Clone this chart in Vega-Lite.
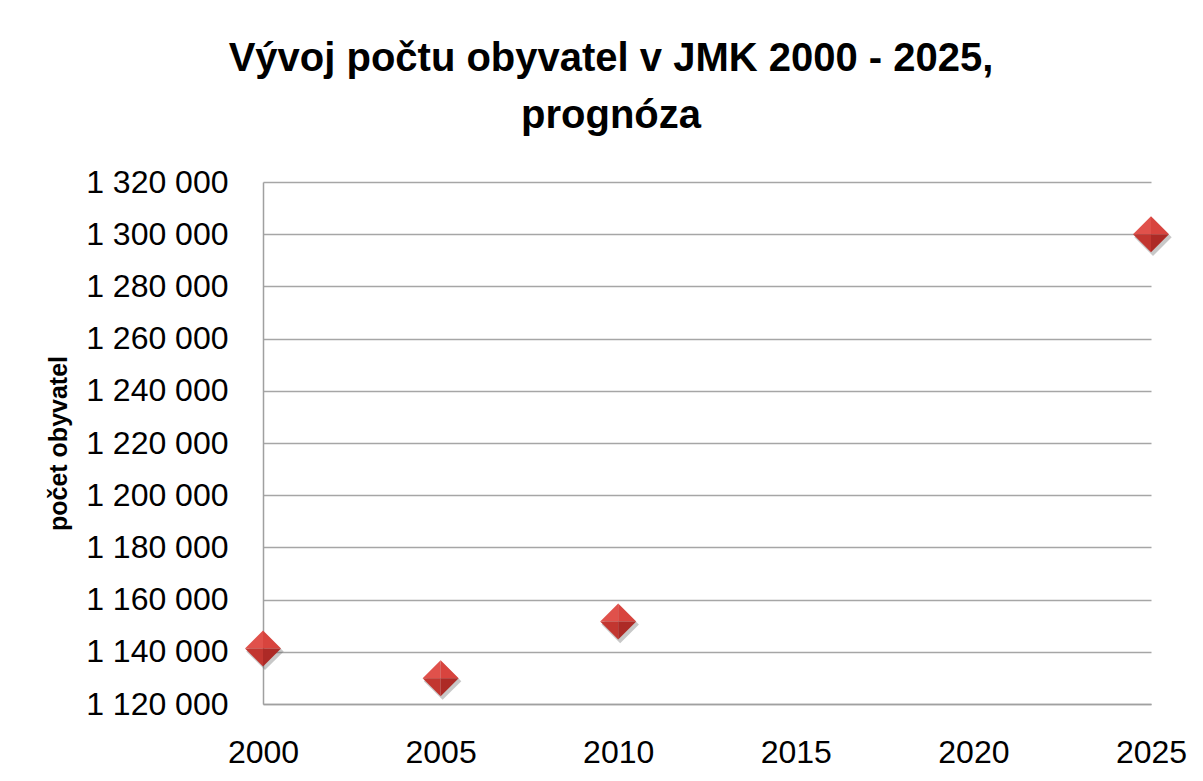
{
  "$schema": "https://vega.github.io/schema/vega-lite/v6.json",
  "autosize": {"type": "none"},
  "width": 888,
  "height": 522,
  "padding": {"left": 263, "top": 182, "right": 52, "bottom": 77},
  "background": "white",
  "title": {
    "text": ["Vývoj počtu obyvatel v JMK 2000 - 2025,", "prognóza"],
    "anchor": "middle",
    "frame": "group",
    "dx": -96,
    "offset": 30,
    "font": "Liberation Sans",
    "fontSize": 40,
    "fontWeight": "bold",
    "lineHeight": 57,
    "color": "#000000"
  },
  "data": {
    "values": [
      {"rok": 2000, "obyvatel": 1141300},
      {"rok": 2005, "obyvatel": 1129900},
      {"rok": 2010, "obyvatel": 1151600},
      {"rok": 2025, "obyvatel": 1300000}
    ]
  },
  "encoding": {
    "x": {
      "field": "rok",
      "type": "quantitative",
      "scale": {"domain": [2000, 2025], "nice": false, "zero": false},
      "axis": {
        "title": null,
        "values": [2000, 2005, 2010, 2015, 2020, 2025],
        "format": "d",
        "grid": false,
        "ticks": false,
        "domainColor": "#a0a0a0",
        "domainWidth": 1.5,
        "labelFont": "Liberation Sans",
        "labelFontSize": 32,
        "labelColor": "#000000",
        "labelPadding": 33,
        "labelFlush": false,
        "labelOverlap": false
      }
    },
    "y": {
      "field": "obyvatel",
      "type": "quantitative",
      "scale": {"domain": [1120000, 1320000], "nice": false, "zero": false},
      "axis": {
        "title": "počet obyvatel",
        "titleFont": "Liberation Sans",
        "titleFontSize": 25,
        "titleFontWeight": "bold",
        "titleColor": "#000000",
        "titlePadding": 14,
        "values": [1120000, 1140000, 1160000, 1180000, 1200000, 1220000, 1240000, 1260000, 1280000, 1300000, 1320000],
        "labelExpr": "replace(format(datum.value, ','), regexp(',', 'g'), ' ')",
        "grid": true,
        "gridColor": "#a6a6a6",
        "gridWidth": 1.5,
        "ticks": false,
        "domainColor": "#a0a0a0",
        "domainWidth": 1.5,
        "labelFont": "Liberation Sans",
        "labelFontSize": 32,
        "labelColor": "#000000",
        "labelPadding": 35,
        "labelFlush": false,
        "labelOverlap": false
      }
    }
  },
  "layer": [
    {"mark": {"type": "point", "shape": "diamond", "size": 1400, "filled": true, "fill": "#606060", "opacity": 0.35, "strokeWidth": 0, "xOffset": 2, "yOffset": 3}},
    {"mark": {"type": "point", "shape": "M-1,0L0,-1L0,0Z", "size": 1296, "filled": true, "fill": "#e0514b", "opacity": 1, "strokeWidth": 0}},
    {"mark": {"type": "point", "shape": "M0,-1L1,0L0,0Z", "size": 1296, "filled": true, "fill": "#d8443e", "opacity": 1, "strokeWidth": 0}},
    {"mark": {"type": "point", "shape": "M-1,0L0,0L0,1Z", "size": 1296, "filled": true, "fill": "#c23630", "opacity": 1, "strokeWidth": 0}},
    {"mark": {"type": "point", "shape": "M0,0L1,0L0,1Z", "size": 1296, "filled": true, "fill": "#ad2a26", "opacity": 1, "strokeWidth": 0}}
  ],
  "config": {
    "view": {"stroke": null}
  }
}
